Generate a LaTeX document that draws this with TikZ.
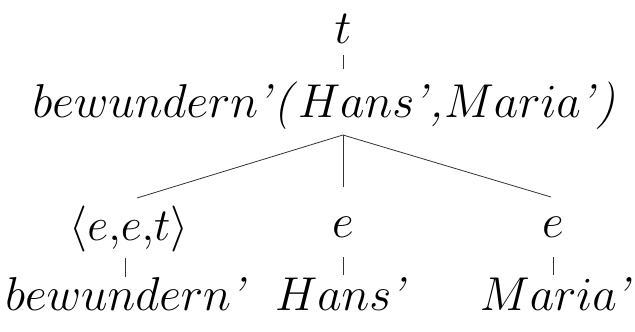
\RequirePackage{fix-cm}
\documentclass[tikz,border=0pt]{standalone}
\newcommand{\ap}{\kern-0.04em\textit{'}}
\begin{document}
\begin{tikzpicture}[x=1pt,y=-1pt,
  lbl/.style={anchor=base,inner sep=0pt,font=\fontsize{47.5}{56}\selectfont},
  typelbl/.style={lbl,font=\fontsize{46}{54}\selectfont},
  edge/.style={line width=0.8pt,black!80}]
\useasboundingbox (0,0) rectangle (635,332);
\node[lbl] (t) at (343,43) {$t$};
\node[lbl] (top) at (324,117) {$bewundern$\ap\textit{(}$Hans$\ap\textit{,}$Maria$\ap\textit{)}};
\node[typelbl] (eet) at (129,240) {$\langle e{,}e{,}t\rangle$};
\node[lbl] (e1) at (343,237) {$e$};
\node[lbl] (e2) at (553,237) {$e$};
\node[lbl] (bw) at (126,310) {$bewundern$\ap};
\node[lbl] (hs) at (341,310) {$Hans$\ap};
\node[lbl] (ma) at (556,310) {$Maria$\ap};
\coordinate (t1) at (343,55); \coordinate (t2) at (343,69);
\coordinate (apex) at (343,135);
\coordinate (l) at (137,198); \coordinate (m) at (343,187); \coordinate (r) at (551,197);
\coordinate (a1) at (125,258); \coordinate (a2) at (125,277);
\coordinate (b1) at (343,257); \coordinate (b2) at (343,275);
\coordinate (c1) at (553,257); \coordinate (c2) at (553,275);
\draw[edge] (t1) -- (t2);
\draw[edge] (apex) -- (l);
\draw[edge] (apex) -- (m);
\draw[edge] (apex) -- (r);
\draw[edge] (a1) -- (a2);
\draw[edge] (b1) -- (b2);
\draw[edge] (c1) -- (c2);
\end{tikzpicture}
\end{document}
